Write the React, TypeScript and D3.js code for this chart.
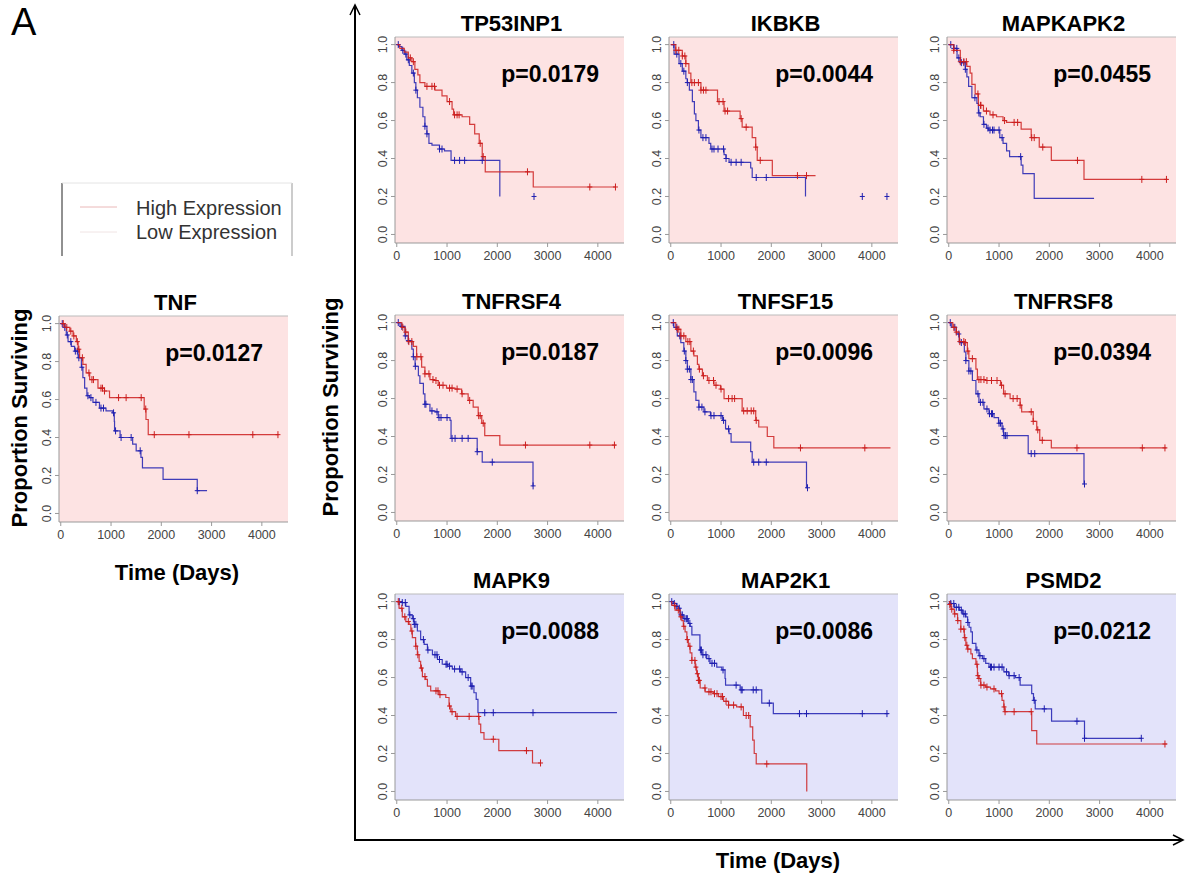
import React from "react";
import * as d3 from "d3";

type Step = [number, number];

// Kaplan-Meier steps: [day, survival from that day on]; last pair = end of follow-up
// censor arrays hold the days of the "+" marks
const tnfHigh: Step[] = [[0,1],[80,0.98],[180,0.96],[245,0.935],[310,0.905],[345,0.865],[375,0.82],[440,0.785],[505,0.74],[575,0.705],[740,0.66],[870,0.645],[970,0.61],[1660,0.55],[1695,0.495],[1740,0.415],[4330,0.415]];
const tnfHighCens = [50,120,200,260,330,360,430,560,620,650,800,830,870,1150,1300,1600,1690,1860,2550,3820,4320];
const tnfLow: Step[] = [[0,1],[80,0.98],[110,0.94],[145,0.905],[210,0.88],[275,0.855],[345,0.82],[410,0.77],[440,0.715],[475,0.66],[520,0.62],[570,0.61],[640,0.585],[770,0.555],[900,0.54],[1035,0.53],[1065,0.485],[1070,0.435],[1180,0.40],[1430,0.365],[1500,0.33],[1595,0.295],[1625,0.24],[2035,0.18],[2715,0.12],[2910,0.12]];
const tnfLowCens = [30,80,130,200,290,330,360,420,540,600,700,800,850,1050,1090,1200,1400,1580,2715];

const tp53inp1High: Step[] = [[0,1],[60,0.98],[150,0.96],[230,0.93],[300,0.91],[360,0.87],[420,0.84],[460,0.80],[560,0.78],[760,0.76],[900,0.73],[1000,0.70],[1100,0.66],[1130,0.63],[1300,0.62],[1450,0.58],[1550,0.53],[1640,0.48],[1700,0.41],[1760,0.33],[2715,0.25],[4360,0.25]];
const tp53inp1HighCens = [270,330,600,700,750,1050,1150,1200,1240,1660,1720,2600,3840,4350];
const tp53inp1Low: Step[] = [[0,1],[40,0.99],[100,0.97],[150,0.95],[200,0.92],[250,0.89],[300,0.85],[350,0.80],[380,0.76],[410,0.72],[460,0.67],[520,0.62],[560,0.57],[600,0.53],[640,0.48],[700,0.47],[850,0.45],[950,0.44],[1080,0.39],[2050,0.20]];
const tp53inp1LowCens = [30,120,180,230,330,380,560,600,850,900,1150,1250,1350,1700,2730];

const ikbkbHigh: Step[] = [[0,1],[100,0.97],[230,0.94],[300,0.90],[360,0.85],[400,0.80],[600,0.76],[930,0.70],[1060,0.65],[1380,0.61],[1420,0.565],[1620,0.51],[1690,0.46],[1720,0.39],[2020,0.31],[2880,0.31]];
const ikbkbHighCens = [100,160,230,280,300,420,470,550,600,650,700,960,1040,1080,1130,1400,1500,1690,1780,2520,2700];
const ikbkbLow: Step[] = [[0,1],[65,0.95],[165,0.90],[230,0.86],[300,0.82],[330,0.80],[370,0.76],[430,0.70],[470,0.635],[500,0.60],[550,0.55],[600,0.51],[760,0.48],[795,0.45],[1060,0.42],[1100,0.40],[1160,0.38],[1590,0.35],[1620,0.30],[2680,0.20]];
const ikbkbLowCens = [60,120,200,260,330,560,640,700,820,860,940,1050,1100,1200,1300,1400,1700,1900,3810,4300];

const mapkapk2High: Step[] = [[0,1],[100,0.97],[230,0.91],[360,0.885],[425,0.85],[460,0.79],[525,0.74],[590,0.68],[690,0.65],[820,0.63],[950,0.62],[1080,0.60],[1150,0.59],[1440,0.555],[1640,0.51],[1800,0.46],[2040,0.39],[2690,0.29],[4350,0.29]];
const mapkapk2HighCens = [100,230,300,350,580,630,640,750,880,1110,1300,1370,1650,1700,1870,2560,3840,4330];
const mapkapk2Low: Step[] = [[0,1],[100,0.98],[165,0.93],[230,0.905],[330,0.87],[360,0.83],[395,0.78],[460,0.72],[560,0.69],[590,0.64],[625,0.62],[690,0.58],[750,0.56],[790,0.55],[1015,0.51],[1080,0.48],[1150,0.44],[1210,0.41],[1440,0.365],[1475,0.32],[1700,0.19],[2890,0.19]];
const mapkapk2LowCens = [40,100,160,200,250,300,330,520,600,700,780,820,870,900,1000,1060,1430];

const tnfrsf4High: Step[] = [[0,1],[100,0.975],[165,0.95],[230,0.90],[330,0.875],[395,0.82],[495,0.765],[560,0.73],[660,0.70],[730,0.695],[825,0.67],[990,0.655],[1160,0.65],[1290,0.625],[1420,0.59],[1520,0.555],[1620,0.51],[1690,0.47],[1750,0.405],[2050,0.355],[4360,0.355]];
const tnfrsf4HighCens = [120,180,240,300,400,480,560,640,720,780,850,920,1050,1100,1200,1300,1450,1630,1660,1720,2560,3840,4330];
const tnfrsf4Low: Step[] = [[0,1],[65,0.98],[165,0.93],[230,0.905],[300,0.86],[330,0.82],[365,0.77],[430,0.72],[460,0.68],[530,0.625],[560,0.57],[660,0.535],[760,0.53],[825,0.50],[1060,0.485],[1080,0.39],[1600,0.32],[1700,0.265],[2710,0.14],[2715,0.14]];
const tnfrsf4LowCens = [30,100,170,230,330,370,560,580,700,800,840,880,1000,1100,1160,1300,1420,1600,1900,2712];

const tnfsf15High: Step[] = [[0,1],[100,0.965],[200,0.93],[300,0.90],[400,0.85],[460,0.825],[530,0.78],[560,0.755],[630,0.72],[730,0.695],[860,0.67],[990,0.65],[1060,0.60],[1420,0.535],[1690,0.485],[1750,0.45],[1920,0.40],[2050,0.34],[4370,0.34]];
const tnfsf15HighCens = [130,160,200,260,340,380,450,570,650,760,850,900,1000,1150,1220,1270,1450,1520,1600,1650,1700,2580,3860];
const tnfsf15Low: Step[] = [[0,1],[60,0.975],[130,0.93],[200,0.895],[260,0.85],[300,0.80],[330,0.755],[400,0.70],[460,0.635],[500,0.59],[560,0.555],[660,0.53],[790,0.51],[1030,0.485],[1090,0.44],[1160,0.415],[1200,0.37],[1590,0.32],[1620,0.265],[2700,0.13],[2720,0.13]];
const tnfsf15LowCens = [50,120,180,270,300,330,370,400,430,560,620,680,800,860,1000,1050,1150,1650,1750,1900,2720];

const tnfrsf8High: Step[] = [[0,1],[80,0.975],[150,0.95],[210,0.90],[310,0.895],[370,0.85],[400,0.81],[540,0.755],[570,0.70],[730,0.695],[1030,0.67],[1090,0.625],[1220,0.60],[1420,0.565],[1450,0.53],[1680,0.48],[1750,0.435],[1810,0.38],[2040,0.34],[4330,0.34]];
const tnfrsf8HighCens = [100,150,220,300,330,380,470,600,640,700,760,850,960,1050,1120,1280,1360,1420,1640,1680,1770,1860,2550,3850,4300];
const tnfrsf8Low: Step[] = [[0,1],[50,0.975],[150,0.94],[210,0.895],[310,0.845],[340,0.80],[400,0.745],[470,0.695],[540,0.625],[600,0.58],[700,0.545],[800,0.52],[900,0.50],[990,0.47],[1060,0.44],[1090,0.405],[1580,0.31],[2690,0.15],[2700,0.15]];
const tnfrsf8LowCens = [30,120,200,250,340,400,440,580,630,680,760,810,850,870,1000,1030,1080,1100,1130,1160,1640,1710,2700];

const mapk9High: Step[] = [[0,1],[45,0.965],[110,0.92],[180,0.895],[245,0.88],[280,0.845],[310,0.81],[375,0.765],[410,0.72],[445,0.685],[475,0.65],[510,0.605],[575,0.59],[610,0.555],[675,0.53],[840,0.51],[975,0.495],[1040,0.45],[1075,0.42],[1170,0.395],[1635,0.355],[1670,0.31],[1735,0.275],[2030,0.215],[2700,0.15],[2860,0.15]];
const mapk9HighCens = [30,100,160,230,300,380,420,490,560,780,820,860,1050,1100,1200,1440,1630,1920,2580,2860];
const mapk9Low: Step[] = [[0,1],[110,0.995],[180,0.975],[245,0.93],[310,0.91],[345,0.88],[410,0.845],[475,0.80],[545,0.775],[610,0.745],[710,0.72],[810,0.695],[905,0.67],[1005,0.66],[1105,0.645],[1270,0.63],[1370,0.60],[1470,0.555],[1535,0.52],[1580,0.485],[1615,0.415],[4380,0.415]];
const mapk9LowCens = [50,110,170,260,330,350,380,530,620,760,800,850,980,1000,1050,1150,1250,1300,1420,1480,1500,1750,1920,2710];

const map2k1High: Step[] = [[0,1],[20,0.98],[85,0.955],[185,0.92],[220,0.90],[250,0.87],[285,0.84],[320,0.80],[350,0.765],[385,0.73],[420,0.69],[485,0.655],[515,0.62],[550,0.585],[585,0.545],[685,0.525],[850,0.515],[950,0.50],[1050,0.475],[1150,0.455],[1310,0.445],[1445,0.40],[1580,0.34],[1630,0.27],[1660,0.20],[1700,0.145],[2705,0]];
const map2k1HighCens = [80,150,200,260,330,380,420,480,500,530,550,570,680,760,800,870,920,1000,1030,1100,1150,1250,1400,1500,1550,1910];
const map2k1Low: Step[] = [[0,1],[50,0.99],[120,0.975],[150,0.965],[185,0.93],[250,0.91],[350,0.885],[385,0.87],[420,0.825],[580,0.745],[620,0.72],[715,0.70],[780,0.675],[915,0.655],[1015,0.64],[1080,0.595],[1090,0.56],[1380,0.535],[1810,0.465],[2040,0.41],[4330,0.41]];
const map2k1LowCens = [20,70,120,170,200,230,280,310,330,380,590,610,640,700,760,820,870,1040,1300,1400,1420,1640,1700,1960,2560,2700,3810,4300];

const psmd2High: Step[] = [[0,1],[20,0.985],[45,0.96],[110,0.935],[175,0.90],[240,0.855],[310,0.81],[340,0.77],[375,0.75],[440,0.725],[470,0.70],[540,0.67],[570,0.61],[600,0.595],[635,0.56],[735,0.55],[830,0.54],[930,0.53],[1000,0.515],[1060,0.48],[1095,0.445],[1115,0.42],[1650,0.32],[1750,0.25],[4340,0.25]];
const psmd2HighCens = [20,60,120,180,240,300,320,360,380,560,580,600,640,700,760,900,1050,1100,1120,1300,1640,4300];
const psmd2Low: Step[] = [[0,1],[40,0.99],[110,0.97],[210,0.955],[275,0.935],[340,0.92],[375,0.89],[405,0.865],[440,0.84],[470,0.78],[540,0.745],[600,0.715],[670,0.70],[735,0.675],[800,0.655],[1095,0.63],[1195,0.61],[1325,0.60],[1420,0.56],[1650,0.515],[1685,0.48],[1720,0.435],[2045,0.37],[2700,0.28],[3830,0.28]];
const psmd2LowCens = [40,100,150,200,250,300,330,380,560,620,700,830,850,900,1000,1060,1150,1200,1300,1400,1700,1900,2550,2700,3830];

const GENES = ["TP53INP1", "IKBKB", "MAPKAPK2", "TNFRSF4", "TNFSF15", "TNFRSF8", "MAPK9", "MAP2K1", "PSMD2"];
const P_VALUES = ["0.0179", "0.0044", "0.0455", "0.0187", "0.0096", "0.0394", "0.0088", "0.0086", "0.0212"];
const FAVOURABLE = ["high", "high", "high", "high", "high", "high", "low", "low", "low"];
const HIGH = [tp53inp1High, ikbkbHigh, mapkapk2High, tnfrsf4High, tnfsf15High, tnfrsf8High, mapk9High, map2k1High, psmd2High];
const HIGH_CENS = [tp53inp1HighCens, ikbkbHighCens, mapkapk2HighCens, tnfrsf4HighCens, tnfsf15HighCens, tnfrsf8HighCens, mapk9HighCens, map2k1HighCens, psmd2HighCens];
const LOW = [tp53inp1Low, ikbkbLow, mapkapk2Low, tnfrsf4Low, tnfsf15Low, tnfrsf8Low, mapk9Low, map2k1Low, psmd2Low];
const LOW_CENS = [tp53inp1LowCens, ikbkbLowCens, mapkapk2LowCens, tnfrsf4LowCens, tnfsf15LowCens, tnfrsf8LowCens, mapk9LowCens, map2k1LowCens, psmd2LowCens];

const X_TICKS = [0, 1000, 2000, 3000, 4000];
const Y_TICKS = [0, 0.2, 0.4, 0.6, 0.8, 1.0];

const W = 1186, H = 881;
const PW = 229, PH = 206;
const COL_X = [395, 669, 947];
const ROW_Y = [37, 315, 594];
const FONT = "'Liberation Sans', Arial, Helvetica, sans-serif";
const RED = "#cc1f1f";
const BLUE = "#1f1fb0";
const BG = { high: "#fde3e3", low: "#e3e3fa" };

function survAt(steps: Step[], t: number) {
  let s = steps[0][1];
  for (const [tt, v] of steps) if (tt <= t) s = v;
  return s;
}

function Panel({ left, top, title, p, bg, high, highCens, low, lowCens }: {
  left: number; top: number; title: string; p: string; bg: string;
  high: Step[]; highCens: number[]; low: Step[]; lowCens: number[];
}) {
  const x = d3.scaleLinear().domain([-35, 4520]).range([left, left + PW]);
  const y = d3.scaleLinear().domain([-0.045, 1.04]).range([top + PH, top]);
  const line = d3.line<Step>().x(d => x(d[0])).y(d => y(d[1])).curve(d3.curveStepAfter);
  const marks = (steps: Step[], cens: number[], color: string) =>
    cens.map((t, i) => {
      const cx = x(t), cy = y(survAt(steps, t));
      return <path key={i} d={`M${cx - 2.5},${cy}H${cx + 2.5}M${cx},${cy - 3.5}V${cy + 3.5}`} stroke={color} strokeWidth={1} />;
    });
  const bottom = top + PH;
  return (
    <g>
      <rect x={left} y={top} width={PW} height={PH} fill={bg} />
      <line x1={left} x2={left + PW} y1={top} y2={top} stroke="#bbb" />
      <line x1={left} x2={left} y1={top} y2={bottom} stroke="#999" />
      <line x1={left} x2={left + PW} y1={bottom} y2={bottom} stroke="#999" />
      <text x={left + PW / 2 + 2} y={top - 6} textAnchor="middle" fontFamily={FONT} fontWeight="bold" fontSize={22}>{title}</text>
      {X_TICKS.map(t => (
        <g key={t}>
          <line x1={x(t)} x2={x(t)} y1={bottom} y2={bottom + 4} stroke="#999" />
          <text x={x(t)} y={bottom + 17} textAnchor="middle" fontFamily={FONT} fontSize={12.5} fill="#444">{t}</text>
        </g>
      ))}
      {Y_TICKS.map(t => (
        <g key={t}>
          <line x1={left - 4} x2={left} y1={y(t)} y2={y(t)} stroke="#999" />
          <text transform={`translate(${left - 8},${y(t)}) rotate(-90)`} textAnchor="middle" fontFamily={FONT} fontSize={12.5} fill="#444">{t.toFixed(1)}</text>
        </g>
      ))}
      <path d={line(low) ?? ""} fill="none" stroke={BLUE} strokeWidth={1.2} opacity={0.85} />
      {marks(low, lowCens, BLUE)}
      <path d={line(high) ?? ""} fill="none" stroke={RED} strokeWidth={1.2} opacity={0.85} />
      {marks(high, highCens, RED)}
      <text x={left + PW - 25} y={top + 45} textAnchor="end" fontFamily={FONT} fontWeight="bold" fontSize={23}>p={p}</text>
    </g>
  );
}

export default function App() {
  return (
    <svg width={W} height={H} style={{ position: "absolute", left: 0, top: 0, background: "#fff" }}>
      <text x={11} y={35} fontFamily={FONT} fontSize={38}>A</text>

      {/* legend */}
      <line x1={62} x2={62} y1={183} y2={256} stroke="#222" />
      <line x1={292} x2={292} y1={183} y2={256} stroke="#999" />
      <line x1={62} x2={292} y1={183} y2={183} stroke="#e4e4e4" />
      <line x1={80} x2={117} y1={207} y2={207} stroke="#eab8b8" />
      <line x1={80} x2={117} y1={232} y2={232} stroke="#f0e4e4" />
      <text x={136} y={215} fontFamily={FONT} fontSize={20} fill="#333">High Expression</text>
      <text x={136} y={239} fontFamily={FONT} fontSize={20} fill="#333">Low Expression</text>

      <Panel left={59} top={316} title="TNF" p="0.0127" bg={BG.high}
        high={tnfHigh} highCens={tnfHighCens} low={tnfLow} lowCens={tnfLowCens} />
      <text transform="translate(27,418) rotate(-90)" textAnchor="middle" fontFamily={FONT} fontWeight="bold" fontSize={22}>Proportion Surviving</text>
      <text x={177} y={580} textAnchor="middle" fontFamily={FONT} fontWeight="bold" fontSize={22}>Time (Days)</text>

      {GENES.map((g, i) => (
        <Panel key={g} left={COL_X[i % 3]} top={ROW_Y[Math.floor(i / 3)]} title={g} p={P_VALUES[i]}
          bg={BG[FAVOURABLE[i] as "high" | "low"]}
          high={HIGH[i]} highCens={HIGH_CENS[i]} low={LOW[i]} lowCens={LOW_CENS[i]} />
      ))}

      {/* shared axes with arrows */}
      <path d="M355,841V6" stroke="#000" strokeWidth={2} fill="none" />
      <path d="M350,15L355,5L360,15" stroke="#000" strokeWidth={1.5} fill="none" />
      <path d="M354,840H1182" stroke="#000" strokeWidth={2} fill="none" />
      <path d="M1173,835L1183,840L1173,845" stroke="#000" strokeWidth={1.5} fill="none" />
      <text transform="translate(338,407) rotate(-90)" textAnchor="middle" fontFamily={FONT} fontWeight="bold" fontSize={22}>Proportion Surviving</text>
      <text x={778} y={868} textAnchor="middle" fontFamily={FONT} fontWeight="bold" fontSize={22}>Time (Days)</text>
    </svg>
  );
}
